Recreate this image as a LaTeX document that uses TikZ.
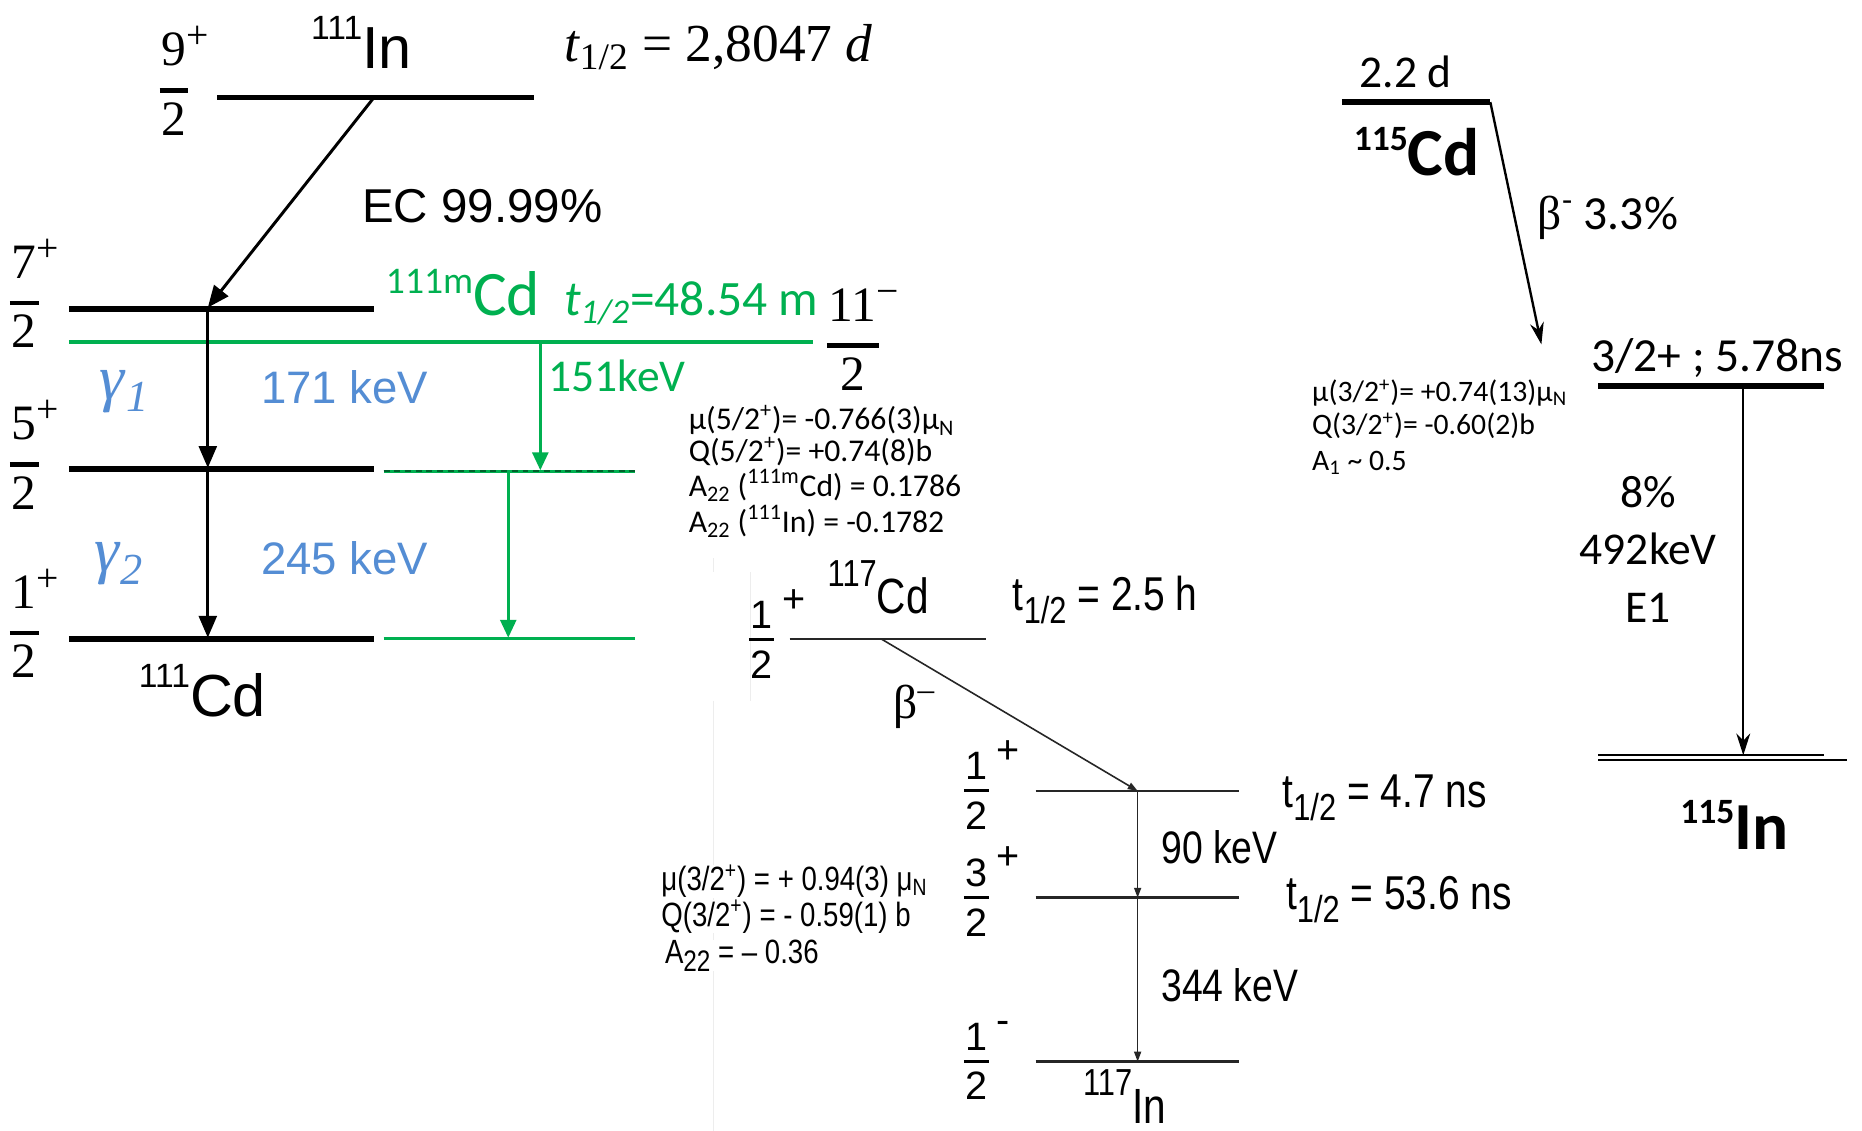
\documentclass[tikz,border=0pt]{standalone}
\usepackage{fontspec}
\setmainfont{Liberation Sans}
\newfontfamily\tnr{Liberation Serif}
\newfontfamily\calib{Carlito}
\newfontfamily\narr[FakeStretch=0.82]{Liberation Sans}
\usetikzlibrary{arrows.meta}
\definecolor{grn}{RGB}{0,176,80}
\definecolor{blu}{RGB}{84,141,212}
\newcommand\fs[1]{\fontsize{#1}{#1}\selectfont}
% isotope: mass size, raise, mass, symbol size, symbol
\newcommand\iso[5]{{\fs{#1}\raisebox{#2}{#3}}{\fs{#4}#5}}
\newsavebox\fracnum
% spin fraction, baseline = bottom of the bar
\newcommand\spinfr[9]{\sbox\fracnum{#1}\hbox{%
  \rlap{\raise#9\vbox{\hbox{\usebox\fracnum\kern#4\raise#5\hbox{\fs{#6}#2}}\kern#7}}%
  \rlap{\kern-.04em\vrule width\dimexpr\wd\fracnum+.08em\relax height#9 depth0pt}%
  \vtop{\kern#8\hbox to\wd\fracnum{\hss#3\hss}}}}
\newcommand\lfrac[3]{\spinfr{#1}{#2}{#3}{0em}{.34em}{20}{.45em}{.2em}{.09em}}
\newcommand\mfrac[3]{\spinfr{#1}{#2}{#3}{.24em}{.42em}{20}{.24em}{.24em}{.07em}}
\newcommand\half{\raisebox{-.28em}{\fs{19}1/2}}
\tikzset{
  every node/.style={inner sep=0pt, outer sep=0pt},
  lvl/.style={line width=2.8pt},
  glvl/.style={line width=1.6pt, draw=grn},
  bkarrow/.style={line width=1.5pt, -{Triangle[length=11pt,width=9pt]}},
  grarrow/.style={line width=1.5pt, draw=grn, -{Triangle[length=9pt,width=8pt, fill=grn]}},
  mlvl/.style={line width=1.3pt, draw=black!85},
  marrow/.style={line width=0.8pt, draw=black!85, -{Triangle[length=5pt,width=3.5pt]}},
  rarrow/.style={line width=1.2pt, -{Stealth[length=11pt,width=7pt]}},
  faint/.style={draw=black!7, line width=0.6pt}
}
\begin{document}
\begin{tikzpicture}[x=0.6pt,y=-0.6pt]
\useasboundingbox[fill=white] (0,0) rectangle (1568,952);

% faint image edges
\draw[faint] (601,470) -- (601,482);
\draw[faint] (601,590) -- (601,952);
\draw[faint] (632,482) -- (632,590);

% ---------------- 111In -> 111Cd ----------------
\coordinate (L9a) at (183,82);  \coordinate (L9b) at (450,82);
\coordinate (L7a) at (58,260);  \coordinate (L7b) at (315,260);
\coordinate (G11a) at (58,288); \coordinate (G11b) at (685,288);
\coordinate (L5a) at (58,395);  \coordinate (L5b) at (315,395);
\coordinate (G5a) at (323,397); \coordinate (G5b) at (535,397);
\coordinate (L1a) at (58,538);  \coordinate (L1b) at (315,538);
\coordinate (G1a) at (323,538); \coordinate (G1b) at (535,538);
\coordinate (ECs) at (315,82);  \coordinate (ECe) at (175,259);
\coordinate (g1s) at (175,260); \coordinate (g1e) at (175,394);
\coordinate (g2s) at (175,395); \coordinate (g2e) at (175,537);
\coordinate (h1s) at (455,288); \coordinate (h1e) at (455,396);
\coordinate (h2s) at (428,397); \coordinate (h2e) at (428,537);

\draw[lvl] (L9a) -- (L9b);
\draw[lvl] (L7a) -- (L7b);
\draw[glvl] (G11a) -- (G11b);
\draw[lvl] (L5a) -- (L5b);
\draw[glvl] (G5a) -- (G5b);
\draw[line width=0.9pt, draw=grn!55!black, dash pattern=on 3pt off 2.4pt] ([yshift=0.3pt]G5a) -- ([yshift=0.3pt]G5b);
\draw[lvl] (L1a) -- (L1b);
\draw[glvl] (G1a) -- (G1b);

\draw[bkarrow] (ECs) -- (ECe);
\draw[bkarrow] (g1s) -- (g1e);
\draw[bkarrow] (g2s) -- (g2e);
\draw[grarrow] (h1s) -- (h1e);
\draw[grarrow] (h2s) -- (h2e);

\node[anchor=base west] (f9) at (136,78) {\tnr\fs{25}\lfrac{9}{+}{2}};
\node[anchor=base west] (f7) at (10,257) {\tnr\fs{25}\lfrac{7}{+}{2}};
\node[anchor=base west] (f5) at (10,393) {\tnr\fs{25}\lfrac{5}{+}{2}};
\node[anchor=base west] (f1) at (10,535) {\tnr\fs{25}\lfrac{1}{+}{2}};
\node[anchor=base west] (f11) at (698,293) {\tnr\fs{25}\lfrac{11}{−}{2}};

\node[anchor=base west] (In111) at (262,58) {\iso{17}{15pt}{111}{30}{In}};
\node[anchor=base west] (thIn) at (475,52) {\tnr\fs{27}\textit{t}\textsubscript{1/2} = 2,8047 \textit{d}};
\node[anchor=base west] (EC) at (305,187) {\fs{24}EC 99.99\%};
\node[anchor=base west, text=grn] (Cdm) at (325,266) {\calib\iso{19}{11.5pt}{111m}{32}{Cd}};
\node[anchor=base west, text=grn] (thCdm) at (475,266) {\calib\fs{25}\textit{t}\textsubscript{\textit{1/2}}=48.54 m};
\node[text=blu] (gam1) at (105,330) {\tnr\fs{32}\textit{γ}\textsubscript{\textit{1}}};
\node[anchor=base west, text=blu] (e171) at (220,340) {\fs{23}171 keV};
\node[anchor=base west, text=grn] (e151) at (462,330) {\calib\fs{23}151keV};
\node[text=blu] (gam2) at (100,475) {\tnr\fs{32}\textit{γ}\textsubscript{\textit{2}}};
\node[anchor=base west, text=blu] (e245) at (220,484) {\fs{23}245 keV};
\node[anchor=base west] (Cd111) at (117,603) {\iso{17}{14.5pt}{111}{30}{Cd}};

% moments of 111Cd
\node[anchor=base west] (mu5) at (580,362) {\calib\fs{16}μ(5/2\textsuperscript{+})= -0.766(3)μ\textsubscript{N}};
\node[anchor=base west] (Q5) at (580,389) {\calib\fs{16}Q(5/2\textsuperscript{+})= +0.74(8)b};
\node[anchor=base west] (A5a) at (580,418) {\calib\fs{16}A\textsubscript{22} (\textsuperscript{111m}Cd) = 0.1786};
\node[anchor=base west] (A5b) at (580,448) {\calib\fs{16}A\textsubscript{22} (\textsuperscript{111}In) = -0.1782};

% ---------------- 117Cd -> 117In ----------------
\coordinate (C7a) at (665,538);  \coordinate (C7b) at (830,538);
\coordinate (I1a) at (872,666);  \coordinate (I1b) at (1043,666);
\coordinate (I3a) at (872,756);  \coordinate (I3b) at (1043,756);
\coordinate (I0a) at (872,894);  \coordinate (I0b) at (1043,894);
\coordinate (bs) at (742,538);   \coordinate (be) at (958,666);
\coordinate (a90s) at (958,666); \coordinate (a90e) at (958,756);
\coordinate (a34s) at (958,756); \coordinate (a34e) at (958,894);

\draw[mlvl] (C7a) -- (C7b);
\draw[mlvl] (I1a) -- (I1b);
\draw[mlvl] (I3a) -- (I3b);
\draw[mlvl] (I0a) -- (I0b);
\draw[marrow] (bs) -- (be);
\draw[marrow] (a90s) -- (a90e);
\draw[marrow] (a34s) -- (a34e);

\node[anchor=base west] (fc117) at (632,540) {\fs{20}\mfrac{1}{+}{2}};
\node[anchor=base west] (Cd117) at (697,517) {\narr\iso{19}{14pt}{117}{25}{Cd}};
\node[anchor=base west] (th25) at (853,514) {\narr\fs{24}t\half\ = 2.5 h};
\node (beta117) at (770,595) {\tnr\fs{24}β\textsuperscript{–}};
\node[anchor=base west] (f1p) at (813,667) {\fs{20}\mfrac{1}{+}{2}};
\node[anchor=base west] (th47) at (1080,680) {\narr\fs{24}t\half\ = 4.7 ns};
\node[anchor=base west] (e90) at (978,727) {\narr\fs{23}90 keV};
\node[anchor=base west] (f3p) at (813,757) {\fs{20}\mfrac{3}{+}{2}};
\node[anchor=base west] (th536) at (1083,766) {\narr\fs{24}t\half\ = 53.6 ns};
\node[anchor=base west] (e344) at (978,843) {\narr\fs{23}344 keV};
\node[anchor=base west] (f1m) at (813,895) {\fs{20}\mfrac{1}{-}{2}};
\node[anchor=base west] (In117) at (912,946) {\narr\iso{19}{14pt}{117}{25}{In}};

\node[anchor=base west, fill=white] (mu3) at (557,750) {\narr\fs{17}μ(3/2\textsuperscript{+}) = + 0.94(3) μ\textsubscript{N}};
\node[anchor=base west, fill=white] (Q3) at (557,780) {\narr\fs{17}Q(3/2\textsuperscript{+}) = - 0.59(1) b};
\node[anchor=base west, fill=white] (A3) at (560,811) {\narr\fs{17}A\raisebox{-.25em}{\fs{15}22} = – 0.36};

% ---------------- 115Cd -> 115In ----------------
\coordinate (C5a) at (1130,86);  \coordinate (C5b) at (1255,86);
\coordinate (rbs) at (1255,86);  \coordinate (rbe) at (1298,290);
\coordinate (J3a) at (1346,325); \coordinate (J3b) at (1536,325);
\coordinate (a49s) at (1468,325); \coordinate (a49e) at (1468,636);
\coordinate (K1a) at (1346,636); \coordinate (K1b) at (1536,636);
\coordinate (K2a) at (1346,640); \coordinate (K2b) at (1555,640);

\draw[lvl] (C5a) -- (C5b);
\draw[lvl] (J3a) -- (J3b);
\draw[line width=0.8pt] (K1a) -- (K1b);
\draw[line width=0.8pt] (K2a) -- (K2b);
\draw[rarrow] (rbs) -- (rbe);
\draw[rarrow] (a49s) -- (a49e);

\node[anchor=base west] (d22) at (1145,74) {\calib\fs{23}2.2 d};
\node[anchor=base west] (Cd115) at (1140,148) {\calib\bfseries\iso{18}{13pt}{115}{34}{Cd}};
\node[anchor=base west] (b33) at (1295,193) {\calib\fs{24}{\tnr β}\textsuperscript{-} 3.3\%};
\node[anchor=base west] (lv32) at (1340,313) {\calib\fs{24}3/2+ ; 5.78ns};
\node[anchor=base] (p8) at (1388,427) {\calib\fs{23}8\%};
\node[anchor=base] (e492) at (1388,475) {\calib\fs{23}492keV};
\node[anchor=base] (E1) at (1388,524) {\calib\fs{23}E1};
\node[anchor=base west] (In115) at (1415,715) {\calib\bfseries\iso{18}{13pt}{115}{34}{In}};
\node[anchor=base west] (mu3r) at (1105,338) {\calib\fs{15}μ(3/2\textsuperscript{+})= +0.74(13)μ\textsubscript{N}};
\node[anchor=base west] (Q3r) at (1105,366) {\calib\fs{15}Q(3/2\textsuperscript{+})= -0.60(2)b};
\node[anchor=base west] (A1r) at (1105,396) {\calib\fs{15}A\textsubscript{1} \textasciitilde{} 0.5};
\end{tikzpicture}
\end{document}
